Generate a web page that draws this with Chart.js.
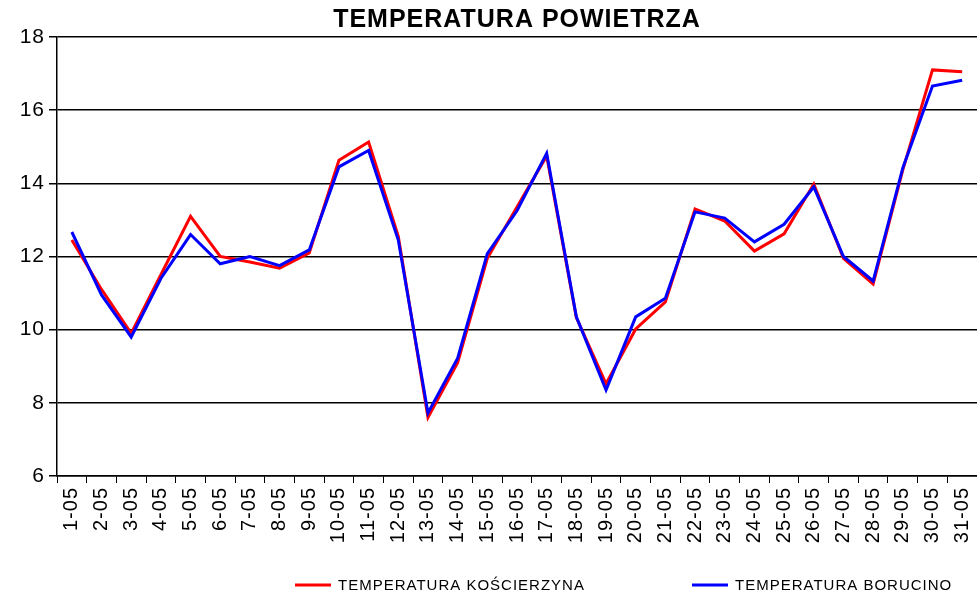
<!DOCTYPE html>
<html>
<head>
<meta charset="utf-8">
<script src="https://cdn.jsdelivr.net/npm/chart.js@4/dist/chart.umd.min.js"></script>
<style>
  html, body { margin: 0; padding: 0; background: #fff; }
  #wrap { width: 977px; height: 598px; position: relative; }
</style>
</head>
<body>
<div id="wrap"><canvas id="tempChart"></canvas></div>
<script>
// --- Dane ---
const days = ['1-05','2-05','3-05','4-05','5-05','6-05','7-05','8-05','9-05','10-05',
              '11-05','12-05','13-05','14-05','15-05','16-05','17-05','18-05','19-05','20-05',
              '21-05','22-05','23-05','24-05','25-05','26-05','27-05','28-05','29-05','30-05','31-05'];

const tempKoscierzyna = [12.45, 11.1, 9.9, 11.5, 13.1, 12.0, 11.85, 11.68, 12.1, 14.63,
                         15.13, 12.55, 7.6, 9.1, 11.95, 13.35, 14.75, 10.33, 8.52, 10.02,
                         10.76, 13.3, 12.97, 12.15, 12.62, 13.98, 11.95, 11.25, 14.37, 17.1, 17.05];

const tempBorucino = [12.67, 10.95, 9.8, 11.4, 12.6, 11.8, 12.0, 11.75, 12.18, 14.45,
                      14.9, 12.45, 7.72, 9.22, 12.08, 13.25, 14.82, 10.35, 8.35, 10.35,
                      10.86, 13.22, 13.05, 12.4, 12.88, 13.9, 12.0, 11.33, 14.42, 16.66, 16.82];

const yMin = 6, yMax = 18, yStep = 2;

const FONT = '"Liberation Sans", Arial, sans-serif';

// --- Szerszy tekst, jak w wykresie z Excela ---
const wideText = {
    id: 'wideText',
    beforeDraw(chart) {
        chart.ctx.letterSpacing = '1px';
    }
};

// --- Legenda rysowana recznie (szeroki odstep jak w oryginale) ---
const bottomLegend = {
    id: 'bottomLegend',
    afterDraw(chart) {
        const ctx = chart.ctx;
        const sets = chart.data.datasets;
        const items = [
            { label: sets[0].label, color: sets[0].borderColor, x: 295 },
            { label: sets[1].label, color: sets[1].borderColor, x: 692 }
        ];
        const y = 585;
        ctx.save();
        ctx.letterSpacing = '1px';
        ctx.font = '15px ' + FONT;
        ctx.textBaseline = 'middle';
        ctx.fillStyle = '#000';
        items.forEach(it => {
            ctx.strokeStyle = it.color;
            ctx.lineWidth = 3;
            ctx.beginPath();
            ctx.moveTo(it.x, y);
            ctx.lineTo(it.x + 36, y);
            ctx.stroke();
            ctx.fillText(it.label, it.x + 43, y + 1);
        });
        ctx.restore();
    }
};

function initChart() {
    const ctx = document.getElementById('tempChart').getContext('2d');

    new Chart(ctx, {
        type: 'line',
        data: {
            labels: days,
            datasets: [
                {
                    label: 'TEMPERATURA KOŚCIERZYNA',
                    data: tempKoscierzyna,
                    borderColor: '#ff0000',
                    borderWidth: 3,
                    pointRadius: 0,
                    tension: 0,
                    fill: false,
                    order: 1
                },
                {
                    label: 'TEMPERATURA BORUCINO',
                    data: tempBorucino,
                    borderColor: '#0000ff',
                    borderWidth: 3,
                    pointRadius: 0,
                    tension: 0,
                    fill: false,
                    order: 0   // niebieska linia na wierzchu
                }
            ]
        },
        options: {
            responsive: true,
            maintainAspectRatio: false,
            animation: false,
            layout: { padding: { left: 0, right: 0, top: 0, bottom: 37 } },
            plugins: {
                legend: { display: false },
                tooltip: { enabled: false },
                title: {
                    display: true,
                    fullSize: false,
                    text: 'TEMPERATURA POWIETRZA',
                    color: '#000',
                    font: { family: FONT, size: 25, weight: 'bold' },
                    padding: { top: 5, bottom: 2 }
                }
            },
            scales: {
                x: {
                    offset: true,
                    grid: {
                        offset: true,
                        drawOnChartArea: false,
                        drawTicks: true,
                        tickLength: 7,
                        color: '#000'
                    },
                    border: { color: '#000', width: 1.5 },
                    ticks: {
                        color: '#000',
                        font: { family: FONT, size: 20 },
                        maxRotation: 90,
                        minRotation: 90,
                        autoSkip: false,
                        padding: 4
                    },
                    afterFit(scale) {
                        scale.height = 85;
                        scale.paddingRight = 0;
                    }
                },
                y: {
                    min: yMin,
                    max: yMax,
                    grid: { color: '#000', lineWidth: 1.5, tickLength: 8 },
                    border: { color: '#000', width: 1.5 },
                    ticks: {
                        stepSize: yStep,
                        color: '#000',
                        font: { family: FONT, size: 21 },
                        padding: 4
                    },
                    afterFit(scale) { scale.width = 57; }
                }
            }
        },
        plugins: [wideText, bottomLegend]
    });
}

document.addEventListener('DOMContentLoaded', initChart);
</script>
</body>
</html>
